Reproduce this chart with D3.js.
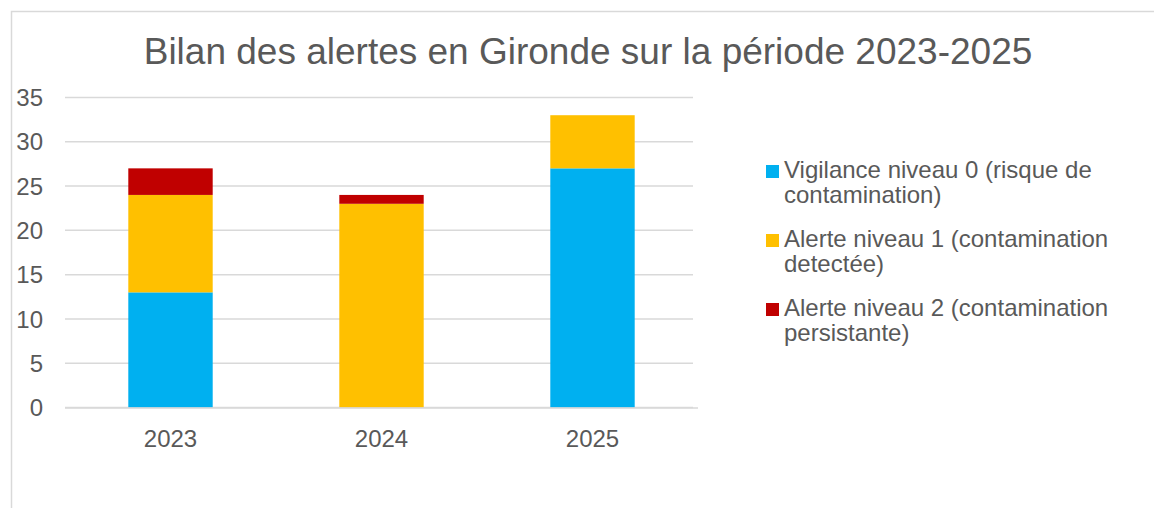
<!DOCTYPE html>
<html>
<head>
<meta charset="utf-8">
<script src="https://cdn.jsdelivr.net/npm/d3@7"></script>
<style>
  body { margin: 0; background: #fff; }
  text { font-family: "Liberation Sans", Arial, sans-serif; fill: #595959; }
</style>
</head>
<body>
<div id="chart"></div>
<script>
// Chart size (the browser window)
const width = 1154;
const height = 508;

// Data
const years = ["2023", "2024", "2025"];
const vigilance0 = [13, 0, 27];
const alerte1 = [11, 23, 6];
const alerte2 = [3, 1, 0];
const seriesNames = [
    ["Vigilance niveau 0 (risque de", "contamination)"],
    ["Alerte niveau 1 (contamination", "detectée)"],
    ["Alerte niveau 2 (contamination", "persistante)"]
];
const seriesColors = ["#00b0f0", "#ffc000", "#c00000"];
const yTicks = [0, 5, 10, 15, 20, 25, 30, 35];

const svg = d3.select("#chart")
    .append("svg")
    .attr("width", width)
    .attr("height", height);

// chart frame (only top and left edges are visible in the picture)
svg.append("rect")
    .attr("x", 11.5)
    .attr("y", 11.5)
    .attr("width", width + 10)
    .attr("height", height + 10)
    .attr("fill", "none")
    .attr("stroke", "#d9d9d9")
    .attr("stroke-width", 1.5);

// title
svg.append("text")
    .attr("x", 588)
    .attr("y", 64)
    .attr("text-anchor", "middle")
    .style("font-size", "37px")
    .text("Bilan des alertes en Gironde sur la période 2023-2025");

// table for the stack layout
let table = years.map(function(y, i) {
    return { year: y, s0: vigilance0[i], s1: alerte1[i], s2: alerte2[i] };
});
let stacked = d3.stack().keys(["s0", "s1", "s2"])(table);

let x = d3.scaleBand()
    .domain(years)
    .range([65, 698])
    .paddingInner(0.6)
    .paddingOuter(0.3);

let y = d3.scaleLinear()
    .domain([0, 35])
    .range([407.5, 97.5]);

// gridlines
svg.append("g")
    .selectAll("line")
    .data(yTicks)
    .join("line")
    .attr("x1", 65)
    .attr("x2", 693)
    .attr("y1", function(d) { return y(d); })
    .attr("y2", function(d) { return y(d); })
    .attr("stroke", "#d9d9d9")
    .attr("stroke-width", 1.5);

// y tick labels
svg.append("g")
    .selectAll("text")
    .data(yTicks)
    .join("text")
    .attr("x", 43)
    .attr("y", function(d) { return y(d); })
    .attr("dy", "0.36em")
    .attr("text-anchor", "end")
    .style("font-size", "24px")
    .text(function(d) { return d; });

// bars
svg.append("g")
    .selectAll("g")
    .data(stacked)
    .join("g")
    .attr("fill", function(d, i) { return seriesColors[i]; })
    .selectAll("rect")
    .data(function(d) { return d; })
    .join("rect")
    .attr("x", function(d) { return x(d.data.year); })
    .attr("y", function(d) { return y(d[1]); })
    .attr("width", x.bandwidth())
    .attr("height", function(d) { return y(d[0]) - y(d[1]); });

// x axis line
svg.append("line")
    .attr("x1", 65)
    .attr("x2", 698)
    .attr("y1", y(0) + 0.5)
    .attr("y2", y(0) + 0.5)
    .attr("stroke", "#d9d9d9")
    .attr("stroke-width", 1.5);

// year labels
svg.append("g")
    .selectAll("text")
    .data(years)
    .join("text")
    .attr("x", function(d) { return x(d) + x.bandwidth() / 2; })
    .attr("y", 447)
    .attr("text-anchor", "middle")
    .style("font-size", "24px")
    .text(function(d) { return d; });

// legend
let legend = svg.append("g")
    .selectAll("g")
    .data(seriesNames)
    .join("g")
    .attr("transform", function(d, i) { return "translate(766," + (178 + i * 69) + ")"; });

legend.append("rect")
    .attr("x", 0)
    .attr("y", -13)
    .attr("width", 13)
    .attr("height", 13)
    .attr("fill", function(d, i) { return seriesColors[i]; });

legend.append("text")
    .attr("x", 18)
    .style("font-size", "24px")
    .selectAll("tspan")
    .data(function(d) { return d; })
    .join("tspan")
    .attr("x", 18)
    .attr("y", function(d, i) { return i * 25; })
    .text(function(d) { return d; });
</script>
</body>
</html>
